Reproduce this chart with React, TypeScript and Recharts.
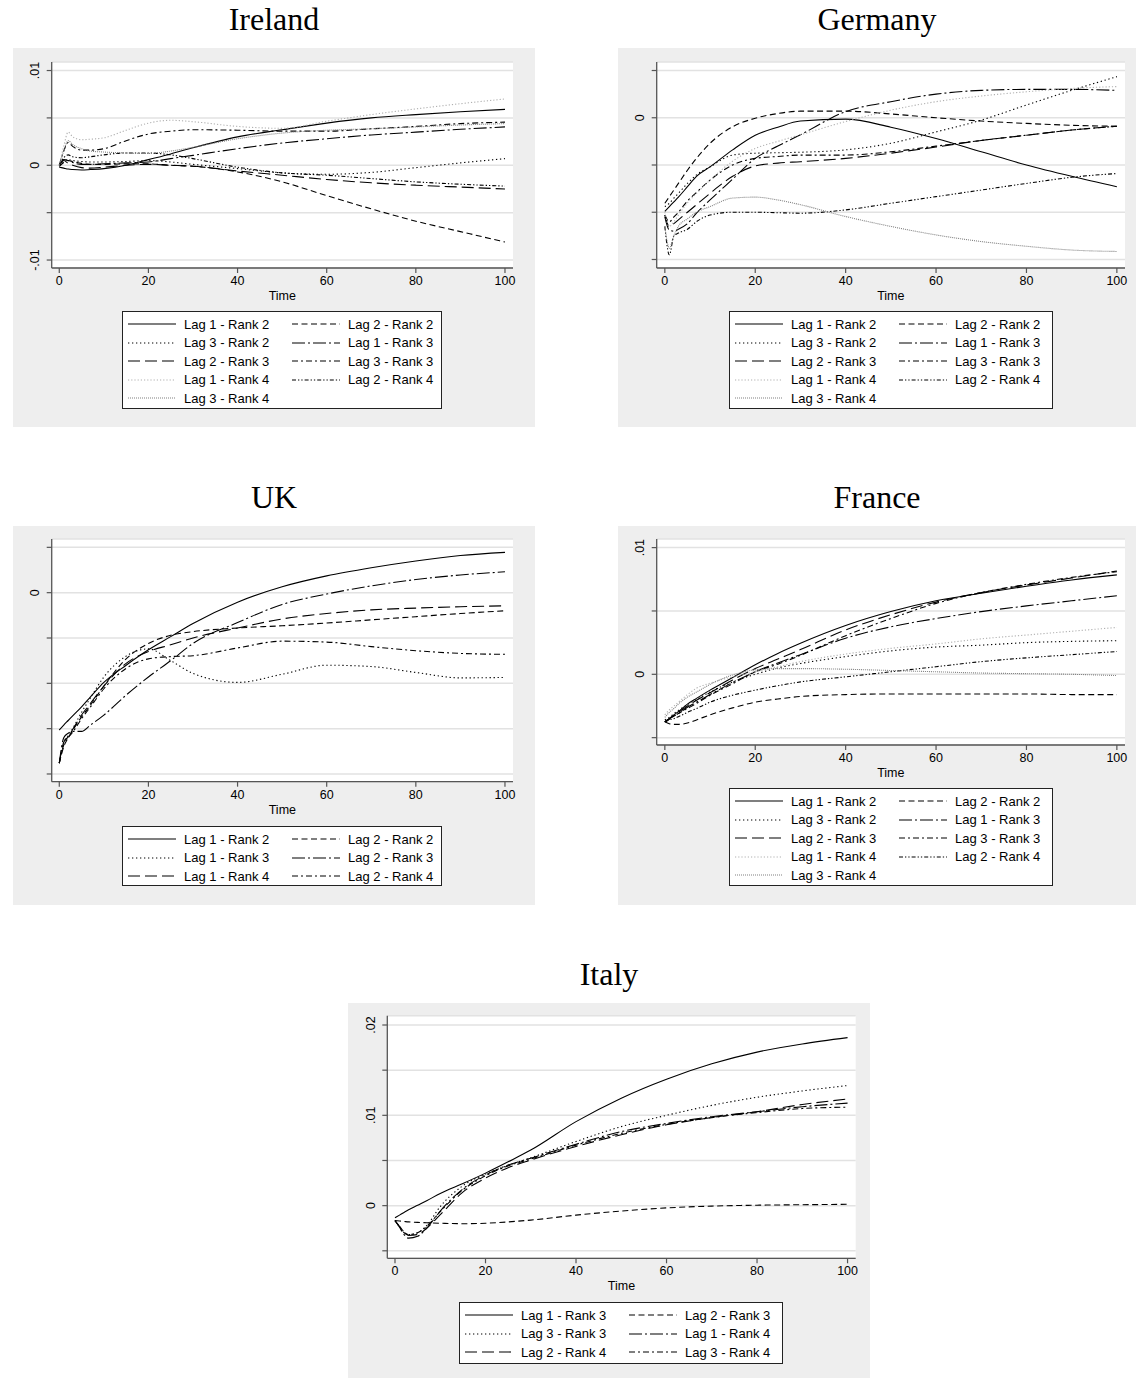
import { CartesianGrid, Line, LineChart, XAxis, YAxis } from "recharts";

// impulse responses, all values x1000
const TIME = [0, 1, 2, 3, 5, 7, 10, 15, 20, 25, 30, 40, 50, 60, 70, 80, 90, 100];
const X_TICKS = [0, 20, 40, 60, 80, 100];

const NAMES_LAG3 = [
  "Lag 1 - Rank 2", "Lag 2 - Rank 2", "Lag 3 - Rank 2",
  "Lag 1 - Rank 3", "Lag 2 - Rank 3", "Lag 3 - Rank 3",
  "Lag 1 - Rank 4", "Lag 2 - Rank 4", "Lag 3 - Rank 4",
];
const NAMES_UK = ["Lag 1 - Rank 2", "Lag 2 - Rank 2", "Lag 1 - Rank 3", "Lag 2 - Rank 3", "Lag 1 - Rank 4", "Lag 2 - Rank 4"];
const NAMES_ITALY = ["Lag 1 - Rank 3", "Lag 2 - Rank 3", "Lag 3 - Rank 3", "Lag 1 - Rank 4", "Lag 2 - Rank 4", "Lag 3 - Rank 4"];

// Ireland
const ieL1R2 = [-0.2, -0.3, -0.4, -0.45, -0.5, -0.45, -0.35, 0.0, 0.6, 1.2, 1.85, 3.0, 3.75, 4.45, 5.0, 5.35, 5.65, 5.9];
const ieL2R2 = [-0.1, 0.3, 0.5, 0.4, 0.2, 0.1, 0.1, 0.15, 0.15, 0.0, -0.1, -0.7, -1.75, -3.2, -4.6, -5.9, -7.0, -8.1];
const ieL3R2 = [0, 0.4, 0.6, 0.5, 0.4, 0.35, 0.35, 0.4, 0.5, 0.35, 0.1, -0.35, -0.8, -0.95, -0.75, -0.25, 0.25, 0.7];
const ieL1R3 = [0, 0.6, 0.5, 0.3, 0.1, 0.1, 0.15, 0.25, 0.35, 0.7, 1.05, 1.75, 2.35, 2.8, 3.2, 3.5, 3.8, 4.05];
const ieL2R3 = [-0.1, 0.5, 0.2, 0.0, -0.25, -0.3, -0.2, 0.0, 0.1, 0.0, -0.1, -0.6, -1.05, -1.5, -1.85, -2.1, -2.3, -2.5];
const ieL3R3 = [0, 1.5, 2.4, 2.0, 1.6, 1.6, 1.75, 2.6, 3.3, 3.6, 3.75, 3.7, 3.6, 3.6, 3.85, 4.1, 4.4, 4.55];
const ieL1R4 = [0, 2.0, 3.5, 3.0, 2.7, 2.75, 2.9, 3.7, 4.45, 4.75, 4.6, 4.1, 3.9, 4.65, 5.35, 5.95, 6.5, 7.0];
const ieL2R4 = [0, 0.8, 1.1, 0.9, 0.8, 0.9, 1.1, 1.3, 1.3, 1.1, 0.7, -0.2, -0.8, -1.05, -1.4, -1.75, -2.0, -2.2];
const ieL3R4 = [0, 1.5, 2.6, 2.2, 1.75, 1.5, 1.4, 1.3, 1.25, 1.5, 1.9, 2.8, 3.4, 3.7, 3.85, 4.05, 4.25, 4.4];

// Germany
const deL1R2 = [-9.9, -9.4, -8.9, -8.4, -7.3, -6.2, -5.2, -3.4, -1.85, -1.0, -0.35, -0.15, -1.0, -2.2, -3.6, -5.0, -6.2, -7.3];
const deL2R2 = [-9.05, -8.35, -7.65, -6.95, -5.55, -4.3, -2.7, -0.95, -0.05, 0.45, 0.7, 0.7, 0.4, 0.0, -0.35, -0.6, -0.8, -0.9];
const deL3R2 = [-9.4, -9.05, -8.5, -8.0, -6.95, -6.05, -5.2, -3.95, -3.75, -3.7, -3.65, -3.4, -2.7, -1.5, -0.25, 1.35, 2.9, 4.35];
const deL1R3 = [-10.5, -11.9, -12.0, -11.8, -11.2, -10.1, -8.7, -6.5, -4.3, -3.0, -1.8, 0.65, 1.7, 2.5, 2.9, 3.0, 3.0, 2.9];
const deL2R3 = [-10.3, -11.5, -11.2, -10.8, -10.0, -9.2, -8.0, -6.2, -5.1, -4.8, -4.65, -4.3, -3.75, -3.1, -2.4, -1.85, -1.3, -0.9];
const deL3R3 = [-10.3, -11.0, -10.5, -10.0, -8.8, -7.9, -6.6, -5.0, -4.3, -4.1, -3.95, -3.95, -3.6, -3.0, -2.4, -1.85, -1.3, -0.9];
const deL1R4 = [-10.0, -11.5, -11.0, -10.3, -9.0, -8.0, -6.6, -4.6, -3.25, -2.5, -1.8, -0.4, 0.8, 1.7, 2.3, 2.75, 3.1, 3.3];
const deL2R4 = [-11.5, -14.5, -12.5, -12.2, -11.8, -11.0, -10.3, -10.0, -10.0, -10.05, -10.1, -9.75, -9.05, -8.35, -7.65, -6.95, -6.3, -5.9];
const deL3R4 = [-11.5, -13.8, -12.5, -11.5, -10.7, -10.0, -9.4, -8.5, -8.4, -8.7, -9.2, -10.45, -11.5, -12.4, -13.1, -13.6, -14.0, -14.15];

// UK
const ukL1R2 = [-15.15, -14.6, -14.1, -13.6, -12.6, -11.5, -9.9, -8.0, -6.3, -4.85, -3.4, -1.05, 0.65, 1.85, 2.75, 3.5, 4.1, 4.45];
const ukL2R2 = [-18.8, -17.0, -16.0, -15.2, -13.7, -12.4, -10.3, -7.3, -5.6, -4.7, -4.3, -3.9, -3.65, -3.35, -3.0, -2.65, -2.3, -2.0];
const ukL1R3 = [-18.8, -16.5, -15.8, -15.0, -13.2, -11.6, -9.3, -7.0, -6.2, -7.5, -8.9, -9.9, -9.0, -8.0, -8.15, -8.8, -9.4, -9.35];
const ukL2R3 = [-18.8, -16.0, -15.5, -15.3, -15.3, -14.6, -13.5, -11.3, -9.3, -7.5, -5.6, -3.3, -1.3, -0.15, 0.75, 1.45, 1.95, 2.3];
const ukL1R4 = [-18.8, -16.5, -15.9, -15.1, -13.5, -12.2, -10.3, -7.8, -6.5, -5.75, -5.0, -3.9, -2.9, -2.3, -1.9, -1.7, -1.55, -1.45];
const ukL2R4 = [-18.8, -16.8, -16.0, -15.4, -13.9, -12.6, -10.6, -8.35, -7.3, -7.05, -6.95, -6.1, -5.35, -5.45, -5.95, -6.4, -6.7, -6.8];

// France
const frL1R2 = [-3.75, -3.5, -3.2, -2.95, -2.35, -1.9, -1.25, -0.25, 0.75, 1.65, 2.45, 3.85, 4.95, 5.8, 6.4, 6.95, 7.45, 7.85];
const frL2R2 = [-3.75, -3.9, -3.95, -3.95, -3.85, -3.6, -3.2, -2.65, -2.2, -1.95, -1.75, -1.6, -1.55, -1.55, -1.55, -1.55, -1.6, -1.6];
const frL3R2 = [-3.6, -3.4, -3.1, -2.85, -2.4, -2.0, -1.4, -0.6, 0.0, 0.5, 0.85, 1.4, 1.85, 2.15, 2.3, 2.5, 2.6, 2.65];
const frL1R3 = [-3.75, -3.5, -3.3, -3.1, -2.6, -2.2, -1.6, -0.65, 0.2, 0.9, 1.55, 2.85, 3.75, 4.4, 4.95, 5.4, 5.8, 6.2];
const frL2R3 = [-3.75, -3.5, -3.25, -3.0, -2.5, -2.05, -1.45, -0.45, 0.45, 1.2, 1.95, 3.5, 4.7, 5.7, 6.45, 7.05, 7.6, 8.15];
const frL3R3 = [-3.75, -3.55, -3.3, -3.1, -2.7, -2.3, -1.65, -0.75, 0.2, 0.8, 1.5, 3.05, 4.4, 5.6, 6.45, 7.1, 7.65, 8.1];
const frL1R4 = [-3.2, -2.8, -2.5, -2.2, -1.6, -1.1, -0.7, -0.2, 0.2, 0.6, 1.0, 1.6, 2.05, 2.4, 2.8, 3.1, 3.4, 3.7];
const frL2R4 = [-3.75, -3.6, -3.5, -3.35, -3.0, -2.7, -2.2, -1.65, -1.25, -0.9, -0.6, -0.2, 0.2, 0.6, 1.0, 1.3, 1.55, 1.8];
const frL3R4 = [-3.4, -3.0, -2.7, -2.35, -1.8, -1.4, -0.8, -0.05, 0.35, 0.45, 0.45, 0.4, 0.3, 0.2, 0.1, 0.05, 0.0, -0.1];

// Italy
const itL1R3 = [-1.35, -1.05, -0.75, -0.45, 0.05, 0.55, 1.35, 2.45, 3.6, 4.85, 6.15, 9.3, 11.9, 14.0, 15.7, 17.0, 17.9, 18.6];
const itL2R3 = [-1.65, -1.7, -1.75, -1.8, -1.85, -1.9, -1.95, -2.0, -1.95, -1.8, -1.6, -1.05, -0.6, -0.25, -0.05, 0.05, 0.1, 0.15];
const itL3R3 = [-1.65, -2.3, -2.9, -3.2, -3.0, -2.2, -0.1, 2.2, 3.5, 4.45, 5.3, 7.1, 8.75, 10.0, 11.1, 12.0, 12.7, 13.3];
const itL1R4 = [-1.65, -2.4, -3.2, -3.6, -3.4, -2.5, -0.6, 1.85, 3.4, 4.5, 5.25, 6.8, 8.2, 9.1, 9.85, 10.4, 10.95, 11.35];
const itL2R4 = [-1.65, -2.3, -2.9, -3.3, -3.2, -2.5, -1.0, 1.5, 3.05, 4.2, 5.05, 6.55, 7.85, 8.95, 9.75, 10.4, 11.2, 11.8];
const itL3R4 = [-1.65, -2.35, -3.0, -3.2, -3.0, -2.3, -0.65, 1.75, 3.3, 4.4, 5.15, 6.7, 8.0, 9.0, 9.75, 10.3, 10.75, 10.9];

// line patterns in legend order (stata mono scheme look)
const STYLES = [
  { stroke: "#000", dash: undefined },
  { stroke: "#000", dash: "6 3.5" },
  { stroke: "#000", dash: "1.3 2.7" },
  { stroke: "#000", dash: "13 3 2 3" },
  { stroke: "#000", dash: "12 5" },
  { stroke: "#000", dash: "6 3 2 3" },
  { stroke: "#b0b0b0", dash: "1.2 2" },
  { stroke: "#000", dash: "4 2 1.3 2 1.3 2" },
  { stroke: "#808080", dash: "1 1" },
];

const SANS = "'Liberation Sans', Arial, sans-serif";

type PanelProps = {
  title: string;
  left: number;
  top: number;
  width: number;
  height: number;
  plot: { left: number; right: number; top: number; bottom: number };
  xDomain: [number, number];
  yDomain: [number, number];
  yTicks: number[];
  yLabels: Record<string, string>;
  names: string[];
  series: number[][];
  legend: { left: number; top: number; width: number; height: number };
};

function Legend({ names, box }: { names: string[]; box: PanelProps["legend"] }) {
  return (
    <div
      style={{
        position: "absolute",
        left: box.left,
        top: box.top,
        width: box.width,
        height: box.height,
        boxSizing: "border-box",
        border: "1px solid #222",
        background: "#fff",
      }}
    >
      {names.map((n, i) => {
        const row = Math.floor(i / 2);
        const col = i % 2;
        const s = STYLES[i];
        return (
          <div
            key={n}
            style={{
              position: "absolute",
              left: 5 + col * 164,
              top: 12 + row * 18.5 - 9,
              height: 18,
              display: "flex",
              alignItems: "center",
              whiteSpace: "nowrap",
            }}
          >
            <svg width={48} height={6} style={{ display: "block" }}>
              <line x1={0} y1={3} x2={48} y2={3} stroke={s.stroke} strokeWidth={1.1} strokeDasharray={s.dash} />
            </svg>
            <span style={{ marginLeft: 8, fontFamily: SANS, fontSize: 13, color: "#000" }}>{n}</span>
          </div>
        );
      })}
    </div>
  );
}

function Panel(p: PanelProps) {
  const chartH = p.plot.bottom + 40;
  const rows = TIME.map((t, i) => {
    const r: Record<string, number> = { t };
    p.series.forEach((s, k) => {
      r["s" + k] = s[i];
    });
    return r;
  });
  const plotLeft = p.plot.left;
  const YTick = (props: any) => {
    const lab = p.yLabels[String(props.payload.value)];
    if (!lab) return null;
    return (
      <text
        transform={`translate(${plotLeft - 12.5},${props.y}) rotate(-90)`}
        textAnchor="middle"
        fontSize={12.5}
        fontFamily={SANS}
        fill="#000"
      >
        {lab}
      </text>
    );
  };
  return (
    <>
      <div
        style={{
          position: "absolute",
          left: p.left + p.width / 2 - 150,
          top: p.top - 45,
          width: 300,
          textAlign: "center",
          fontFamily: "'Liberation Serif', 'Times New Roman', serif",
          fontSize: 32,
          lineHeight: "32px",
        }}
      >
        {p.title}
      </div>
      <div
        style={{
          position: "absolute",
          left: p.left,
          top: p.top,
          width: p.width,
          height: p.height,
          background: "#eeeeee",
        }}
      >
        <LineChart
          width={p.width}
          height={chartH}
          data={rows}
          margin={{ top: p.plot.top, right: p.width - p.plot.right, left: 0, bottom: 0 }}
        >
          <CartesianGrid vertical={false} stroke="#e2e2e2" strokeWidth={1.5} fill="#ffffff" />
          <XAxis
            dataKey="t"
            type="number"
            domain={p.xDomain}
            ticks={X_TICKS}
            allowDataOverflow
            height={chartH - p.plot.bottom}
            axisLine={{ stroke: "#555", strokeWidth: 1.3 }}
            tickLine={{ stroke: "#555", strokeWidth: 1.2 }}
            tickSize={5}
            tickMargin={3}
            tick={{ fontSize: 12.5, fontFamily: SANS, fill: "#000" }}
            label={{ value: "Time", position: "insideTop", offset: 23, fontSize: 12.5, fontFamily: SANS, fill: "#000" }}
          />
          <YAxis
            type="number"
            domain={p.yDomain}
            ticks={p.yTicks}
            allowDataOverflow
            width={p.plot.left}
            axisLine={{ stroke: "#555", strokeWidth: 1.3 }}
            tickLine={{ stroke: "#555", strokeWidth: 1.2 }}
            tickSize={5}
            tick={YTick}
          />
          {p.series.map((_, k) => (
            <Line
              key={k}
              dataKey={"s" + k}
              type="monotone"
              stroke={STYLES[k].stroke}
              strokeDasharray={STYLES[k].dash}
              strokeWidth={1.1}
              dot={false}
              activeDot={false}
              isAnimationActive={false}
            />
          ))}
        </LineChart>
        <Legend names={p.names} box={p.legend} />
      </div>
    </>
  );
}

export default function App() {
  return (
    <div style={{ position: "absolute", left: 0, top: 0, width: 1136, height: 1378, background: "#fff", overflow: "hidden" }}>
      <Panel
        title="Ireland"
        left={13}
        top={48}
        width={522}
        height={379}
        plot={{ left: 38.7, right: 500, top: 14, bottom: 220 }}
        xDomain={[-1.7, 101.8]}
        yDomain={[-10.84, 10.9]}
        yTicks={[-10, -5, 0, 5, 10]}
        yLabels={{ "10": ".01", "0": "0", "-10": "-.01" }}
        names={NAMES_LAG3}
        series={[ieL1R2, ieL2R2, ieL3R2, ieL1R3, ieL2R3, ieL3R3, ieL1R4, ieL2R4, ieL3R4]}
        legend={{ left: 109, top: 263, width: 320, height: 98 }}
      />
      <Panel
        title="Germany"
        left={618}
        top={48}
        width={518}
        height={379}
        plot={{ left: 38.7, right: 507, top: 14, bottom: 220 }}
        xDomain={[-1.8, 101.8]}
        yDomain={[-15.9, 5.9]}
        yTicks={[-15, -10, -5, 0, 5]}
        yLabels={{ "0": "0" }}
        names={NAMES_LAG3}
        series={[deL1R2, deL2R2, deL3R2, deL1R3, deL2R3, deL3R3, deL1R4, deL2R4, deL3R4]}
        legend={{ left: 111, top: 263, width: 324, height: 98 }}
      />
      <Panel
        title="UK"
        left={13}
        top={526}
        width={522}
        height={379}
        plot={{ left: 38.7, right: 500, top: 13, bottom: 255.7 }}
        xDomain={[-1.7, 101.8]}
        yDomain={[-20.85, 5.92]}
        yTicks={[-20, -15, -10, -5, 0, 5]}
        yLabels={{ "0": "0" }}
        names={NAMES_UK}
        series={[ukL1R2, ukL2R2, ukL1R3, ukL2R3, ukL1R4, ukL2R4]}
        legend={{ left: 109, top: 300, width: 320, height: 60 }}
      />
      <Panel
        title="France"
        left={618}
        top={526}
        width={518}
        height={379}
        plot={{ left: 38.7, right: 507, top: 13, bottom: 219 }}
        xDomain={[-1.8, 101.8]}
        yDomain={[-5.58, 10.68]}
        yTicks={[-5, 0, 5, 10]}
        yLabels={{ "10": ".01", "0": "0" }}
        names={NAMES_LAG3}
        series={[frL1R2, frL2R2, frL3R2, frL1R3, frL2R3, frL3R3, frL1R4, frL2R4, frL3R4]}
        legend={{ left: 111, top: 262, width: 324, height: 98 }}
      />
      <Panel
        title="Italy"
        left={348}
        top={1003}
        width={522}
        height={375}
        plot={{ left: 39.3, right: 507.7, top: 12.7, bottom: 255.3 }}
        xDomain={[-1.7, 101.8]}
        yDomain={[-5.83, 21.03]}
        yTicks={[-5, 0, 5, 10, 15, 20]}
        yLabels={{ "20": ".02", "10": ".01", "0": "0" }}
        names={NAMES_ITALY}
        series={[itL1R3, itL2R3, itL3R3, itL1R4, itL2R4, itL3R4]}
        legend={{ left: 111, top: 299, width: 324, height: 62 }}
      />
    </div>
  );
}
